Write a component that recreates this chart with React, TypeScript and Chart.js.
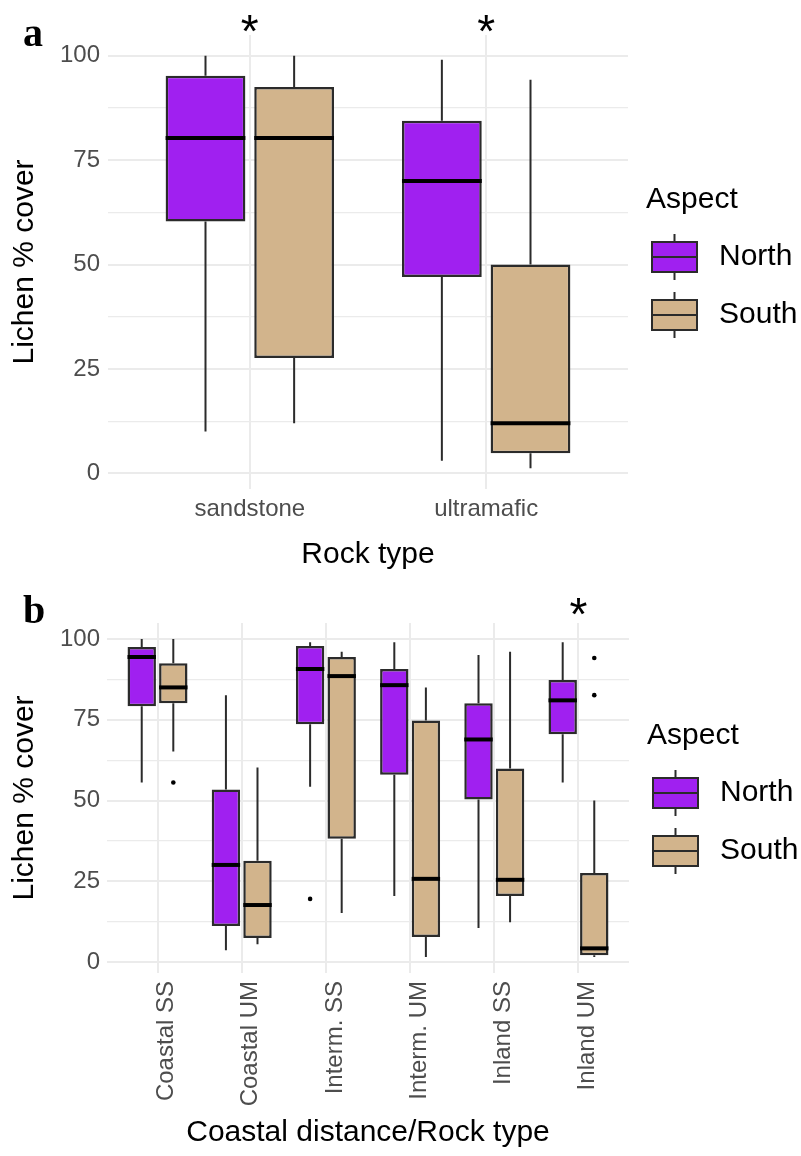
import React, { useEffect, useRef } from 'react';
import { Chart, registerables } from 'chart.js';

Chart.register(...registerables);

// ---------- data ----------
const groupNames = ['North', 'South'];
const groupColors = ['#A020F0', '#D2B48C'];

// Panel a: rock type
const rockTypes = ['sandstone', 'ultramafic'];
const aNorthMin = [10, 3];
const aNorthQ1 = [60.3, 47];
const aNorthMed = [80.3, 70];
const aNorthQ3 = [95.2, 84.4];
const aNorthMax = [100, 99];
const aNorthOut: number[][] = [[], []];
const aSouthMin = [12, 1.2];
const aSouthQ1 = [27.6, 4.8];
const aSouthMed = [80.3, 12];
const aSouthQ3 = [92.5, 50];
const aSouthMax = [100, 94.2];
const aSouthOut: number[][] = [[], []];
const aSig = ['*', '*'];

// Panel b: coastal distance / rock type
const siteTypes = ['Coastal SS', 'Coastal UM', 'Interm. SS', 'Interm. UM', 'Inland SS', 'Inland UM'];
const bNorthMin = [55.6, 3.7, 54.3, 20.5, 10.6, 55.6];
const bNorthQ1 = [79.2, 11.2, 73.6, 58, 50.3, 70.5];
const bNorthMed = [94.4, 30.1, 90.7, 85.7, 68.9, 81];
const bNorthQ3 = [97.5, 53.4, 97.8, 90.7, 80.1, 87.3];
const bNorthMax = [100, 82.6, 99, 99, 95, 99];
const bNorthOut: number[][] = [[], [], [19.6], [], [], []];
const bSouthMin = [65.2, 5.6, 15.2, 1.6, 12.4, 1.6];
const bSouthQ1 = [80.1, 7.5, 38.2, 7.8, 20.5, 2.2];
const bSouthMed = [85, 17.7, 88.5, 25.8, 25.5, 4.3];
const bSouthQ3 = [92.5, 31.4, 94.4, 74.8, 59.9, 27.6];
const bSouthMax = [100, 60.2, 96, 85, 96, 50];
const bSouthOut: number[][] = [[55.6], [], [], [], [], [94.1, 82.6]];
const bSig = ['', '', '', '', '', '*'];

const majorTicks = [0, 25, 50, 75, 100];
const minorTicks = [12.5, 37.5, 62.5, 87.5];

// ---------- styling ----------
const SANS = '"Liberation Sans", Arial, Helvetica, sans-serif';
const SERIF = '"Liberation Serif", "Times New Roman", serif';
const GRID = '#EBEBEB';
const LINE = '#2B2B2B';

type Stats = { min: number[]; q1: number[]; med: number[]; q3: number[]; max: number[]; out: number[][] };

type PanelSpec = {
  letter: string;
  cats: string[];
  groups: Stats[];
  sig: string[];
  xTitle: string;
  height: number;
  padTop: number;
  padRight: number;
  yAxisWidth: number;
  yTickPad: number;
  xAxisHeight: number;
  xTickPad: number;
  xTitlePadBottom: number;
  rotate: boolean;
  labelOffset: number;
  sigDy: number;
  letterBaseline: number;
};

const panelA: PanelSpec = {
  letter: 'a',
  cats: rockTypes,
  groups: [
    { min: aNorthMin, q1: aNorthQ1, med: aNorthMed, q3: aNorthQ3, max: aNorthMax, out: aNorthOut },
    { min: aSouthMin, q1: aSouthQ1, med: aSouthMed, q3: aSouthQ3, max: aSouthMax, out: aSouthOut },
  ],
  sig: aSig,
  xTitle: 'Rock type',
  height: 580,
  padTop: 35,
  padRight: 173,
  yAxisWidth: 108,
  yTickPad: 8,
  xAxisHeight: 91,
  xTickPad: 6,
  xTitlePadBottom: 7,
  rotate: false,
  labelOffset: 0,
  sigDy: 1,
  letterBaseline: 46,
};

const panelB: PanelSpec = {
  letter: 'b',
  cats: siteTypes,
  groups: [
    { min: bNorthMin, q1: bNorthQ1, med: bNorthMed, q3: bNorthQ3, max: bNorthMax, out: bNorthOut },
    { min: bSouthMin, q1: bSouthQ1, med: bSouthMed, q3: bSouthQ3, max: bSouthMax, out: bSouthOut },
  ],
  sig: bSig,
  xTitle: 'Coastal distance/Rock type',
  height: 576,
  padTop: 43,
  padRight: 172,
  yAxisWidth: 107,
  yTickPad: 7,
  xAxisHeight: 183,
  xTickPad: 8,
  xTitlePadBottom: 5,
  rotate: true,
  labelOffset: 9,
  sigDy: 6,
  letterBaseline: 43,
};

const extrasPlugin = {
  id: 'boxExtras',
  afterDatasetsDraw(chart: any) {
    const { ctx } = chart;
    const y = chart.scales.y;
    chart.data.datasets.forEach((ds: any, di: number) => {
      const st: Stats = ds.stats;
      const meta = chart.getDatasetMeta(di);
      meta.data.forEach((bar: any, i: number) => {
        const { x: cx, width } = bar.getProps(['x', 'width'], true);
        const half = width / 2;
        ctx.save();
        ctx.strokeStyle = LINE;
        ctx.lineWidth = 2;
        ctx.lineCap = 'butt';
        ctx.beginPath();
        ctx.moveTo(cx, y.getPixelForValue(st.max[i]));
        ctx.lineTo(cx, y.getPixelForValue(st.q3[i]));
        ctx.moveTo(cx, y.getPixelForValue(st.q1[i]));
        ctx.lineTo(cx, y.getPixelForValue(st.min[i]));
        ctx.stroke();
        const ym = y.getPixelForValue(st.med[i]);
        ctx.strokeStyle = '#000';
        ctx.lineWidth = 4;
        ctx.beginPath();
        ctx.moveTo(cx - half, ym);
        ctx.lineTo(cx + half, ym);
        ctx.stroke();
        ctx.fillStyle = '#000';
        st.out[i].forEach((v) => {
          ctx.beginPath();
          ctx.arc(cx, y.getPixelForValue(v), 2.3, 0, Math.PI * 2);
          ctx.fill();
        });
        ctx.restore();
      });
    });
  },
  afterDraw(chart: any) {
    const { ctx, chartArea } = chart;
    const o = chart.options.plugins.boxExtras;
    const x = chart.scales.x;
    ctx.save();
    // significance marks
    ctx.fillStyle = '#000';
    ctx.font = `46px ${SANS}`;
    ctx.textAlign = 'center';
    ctx.textBaseline = 'middle';
    o.sig.forEach((s: string, i: number) => {
      if (s) ctx.fillText(s, x.getPixelForValue(i + 1), chartArea.top - o.sigDy);
    });
    // panel letter
    ctx.font = `bold 40px ${SERIF}`;
    ctx.textAlign = 'left';
    ctx.textBaseline = 'alphabetic';
    ctx.fillText(o.letter, 23, o.letterBaseline);
    // legend
    const cy = (chartArea.top + chartArea.bottom) / 2;
    const lx = chartArea.right;
    ctx.font = `30px ${SANS}`;
    ctx.textBaseline = 'middle';
    ctx.fillStyle = '#000';
    ctx.fillText('Aspect', lx + 18, cy - 62);
    chart.data.datasets.forEach((ds: any, di: number) => {
      const ky = cy - 5 + di * 58;
      const kx = lx + 24;
      const kw = 45;
      const kh = 30;
      ctx.strokeStyle = LINE;
      ctx.lineWidth = 2;
      ctx.beginPath();
      ctx.moveTo(kx + kw / 2, ky - kh / 2 - 8);
      ctx.lineTo(kx + kw / 2, ky + kh / 2 + 8);
      ctx.stroke();
      ctx.fillStyle = ds.backgroundColor;
      ctx.fillRect(kx, ky - kh / 2, kw, kh);
      ctx.strokeRect(kx, ky - kh / 2, kw, kh);
      ctx.beginPath();
      ctx.moveTo(kx, ky);
      ctx.lineTo(kx + kw, ky);
      ctx.stroke();
      ctx.fillStyle = '#000';
      ctx.fillText(ds.label, lx + 91, ky);
    });
    ctx.restore();
  },
};

function buildConfig(p: PanelSpec): any {
  const all: number[] = [];
  p.groups.forEach((g) => {
    all.push(...g.min, ...g.max);
    g.out.forEach((o) => all.push(...o));
  });
  const lo = Math.min(...all);
  const hi = Math.max(...all);
  const ex = (hi - lo) * 0.05;
  const n = p.cats.length;
  return {
    type: 'bar',
    data: {
      datasets: p.groups.map((g, gi) => ({
        label: groupNames[gi],
        data: p.cats.map((_, i) => ({ x: i + 1, y: [g.q1[i], g.q3[i]] })),
        backgroundColor: groupColors[gi],
        borderColor: LINE,
        borderWidth: 2.5,
        borderSkipped: false,
        categoryPercentage: 0.75,
        barPercentage: 0.9,
        stats: g,
      })),
    },
    options: {
      responsive: false,
      animation: false,
      devicePixelRatio: 1,
      layout: { padding: { top: p.padTop, right: p.padRight, bottom: 0, left: 0 } },
      plugins: {
        legend: { display: false },
        tooltip: { enabled: false },
        boxExtras: { sig: p.sig, sigDy: p.sigDy, letter: p.letter, letterBaseline: p.letterBaseline },
      },
      scales: {
        x: {
          type: 'linear',
          min: 0.4,
          max: n + 0.6,
          offset: false,
          afterBuildTicks: (s: any) => {
            s.ticks = p.cats.map((_, i) => ({ value: i + 1 }));
          },
          afterFit: (s: any) => {
            s.height = p.xAxisHeight;
          },
          ticks: {
            autoSkip: false,
            callback: (v: number) => p.cats[Math.round(v) - 1] ?? '',
            color: '#4D4D4D',
            font: { family: SANS, size: 24 },
            padding: p.xTickPad,
            maxRotation: p.rotate ? 90 : 0,
            minRotation: p.rotate ? 90 : 0,
            labelOffset: p.labelOffset,
          },
          grid: { color: GRID, lineWidth: 2, drawTicks: false, offset: false },
          border: { display: false },
          title: {
            display: true,
            text: p.xTitle,
            color: '#000',
            font: { family: SANS, size: 30 },
            padding: { top: 0, bottom: p.xTitlePadBottom },
          },
        },
        y: {
          type: 'linear',
          min: lo - ex,
          max: hi + ex,
          afterBuildTicks: (s: any) => {
            s.ticks = [...majorTicks, ...minorTicks].sort((a, b) => a - b).map((v) => ({ value: v }));
          },
          afterFit: (s: any) => {
            s.width = p.yAxisWidth;
          },
          ticks: {
            autoSkip: false,
            callback: (v: number) => (majorTicks.includes(v) ? String(v) : ''),
            color: '#4D4D4D',
            font: { family: SANS, size: 24 },
            padding: p.yTickPad,
          },
          grid: {
            color: GRID,
            lineWidth: (c: any) => (c.tick && majorTicks.includes(c.tick.value) ? 2 : 1.2),
            drawTicks: false,
          },
          border: { display: false },
          title: {
            display: true,
            text: 'Lichen % cover',
            color: '#000',
            font: { family: SANS, size: 30 },
            padding: { top: 7, bottom: 0 },
          },
        },
      },
    },
    plugins: [extrasPlugin],
  };
}

function Panel({ spec, top }: { spec: PanelSpec; top: number }) {
  const ref = useRef<HTMLCanvasElement>(null);
  useEffect(() => {
    const chart = new Chart(ref.current as HTMLCanvasElement, buildConfig(spec));
    return () => chart.destroy();
  }, [spec]);
  return (
    <canvas
      ref={ref}
      width={801}
      height={spec.height}
      style={{ position: 'absolute', left: 0, top, width: 801, height: spec.height, display: 'block' }}
    />
  );
}

export default function App() {
  return (
    <div
      style={{
        position: 'absolute',
        left: 0,
        top: 0,
        width: 801,
        height: 1156,
        background: '#fff',
        overflow: 'hidden',
      }}
    >
      <Panel spec={panelA} top={0} />
      <Panel spec={panelB} top={580} />
    </div>
  );
}
